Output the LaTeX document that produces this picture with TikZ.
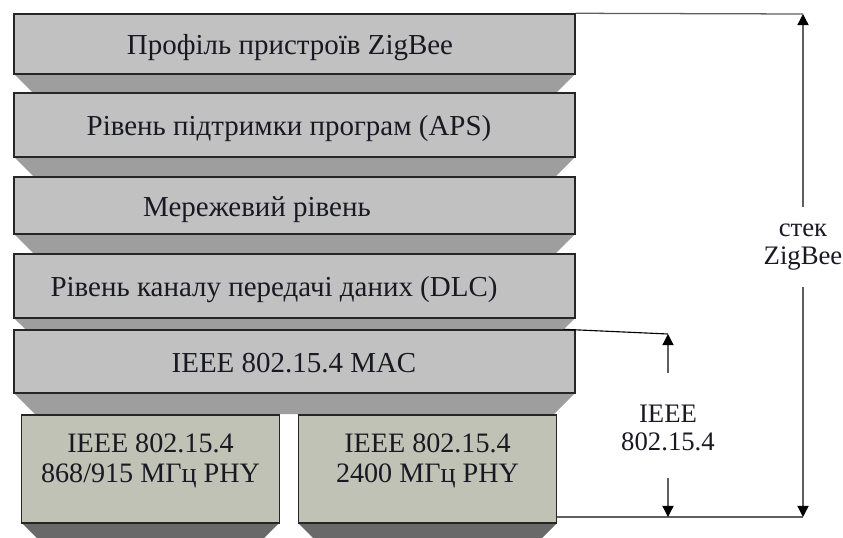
\documentclass[tikz,border=0pt]{standalone}
\usepackage{fontspec}
\setmainfont{Liberation Serif}
\usepackage{xcolor}
\usetikzlibrary{arrows.meta, positioning}

\definecolor{layergray}{RGB}{193,193,193}
\definecolor{shadegray}{RGB}{158,158,158}
\definecolor{phygray}{RGB}{192,194,181}
\definecolor{physhade}{RGB}{105,105,105}
\definecolor{dimgray}{RGB}{95,95,95}
\definecolor{inkdark}{RGB}{25,25,35}

\begin{document}
\begin{tikzpicture}[x=0.025cm, y=-0.025cm,
  layer/.style={draw=black!85, line width=1pt, fill=layergray, minimum width=14.025cm, inner sep=0pt},
  phy/.style={draw=black!85, line width=1pt, fill=phygray, minimum width=6.45cm, minimum height=2.7cm, inner sep=0pt},
  shade/.style={fill=shadegray},
  txt/.style={font=\fontsize{20.6}{22}\selectfont, text=inkdark, inner sep=0pt},
  phytxt/.style={font=\fontsize{20}{21.5}\selectfont, text=inkdark, inner sep=0pt, align=center},
  side/.style={font=\fontsize{19}{20}\selectfont, text=inkdark, inner sep=0pt, align=center},
  dim/.style={-{Triangle[length=8pt, width=8pt, color=black]}, draw=dimgray, line width=0.9pt},
  rule/.style={draw=dimgray, line width=0.9pt}]
  \useasboundingbox (0,0) rectangle (843,538);

  % Stack layers with their shadows
  \foreach \name/\top/\bot/\dep/\tx/\txt in {
      prof/14/74/18/290/Профіль пристроїв ZigBee,
      aps/93/157/19/289/Рівень підтримки програм (APS),
      net/177/234/19/257/Мережевий рівень,
      dlc/254/318/11/274/Рівень каналу передачі даних (DLC),
      mac/330/393/21/294/IEEE 802.15.4 MAC} {
    \fill[shade] (14,\bot) -- (575,\bot) -- (575-\dep,\bot+\dep) -- (14+\dep,\bot+\dep) -- cycle;
    \node[layer, minimum height={(\bot-\top)*0.025cm}] (\name) at (294.5,{(\top+\bot)/2}) {};
    \node[txt, anchor=base] (\name-t) at (\tx,{(\top+\bot)/2+11}) {\txt};
  }

  % Physical layers
  \fill[physhade] (22,523) -- (279,523) -- (264,538) -- (37,538) -- cycle;
  \fill[physhade] (298,523) -- (557,523) -- (542,538) -- (313,538) -- cycle;
  \node[phy] (phya) at (150.5,469) {};
  \node[phy] (phyb) at (427.5,469) {};
  \node[phytxt] (phya-t) at (150.5,461) {IEEE 802.15.4\\868/915 МГц PHY};
  \node[phytxt] (phyb-t) at (427.5,461) {IEEE 802.15.4\\2400 МГц PHY};

  % Dimension: whole ZigBee stack
  \coordinate (stacktop) at (803,14);
  \coordinate (stackbot) at (803,517);
  \node[side, minimum height=2cm] (stack) at (803,247) {стек\\ZigBee};
  \draw[rule] (prof.north east) -- (stacktop);
  \draw[rule] (phyb.east |- stackbot) -- (stackbot);
  \draw[dim] (stack.north) -- (stacktop);
  \draw[dim] (stack.south) -- (stackbot);

  % Dimension: IEEE 802.15.4 part
  \coordinate (ieeetop) at (668,334);
  \coordinate (ieeebot) at (668,517);
  \node[side, minimum height=2.25cm] (ieee) at (668,428) {IEEE\\802.15.4};
  \draw[black, line width=0.8pt] ([xshift=-0.3cm]mac.north east) -- (ieeetop);
  \draw[dim] ([yshift=0.25cm]ieee.north) -- (ieeetop);
  \draw[dim] ([yshift=-0.12cm]ieee.south) -- (ieeebot);
\end{tikzpicture}
\end{document}
